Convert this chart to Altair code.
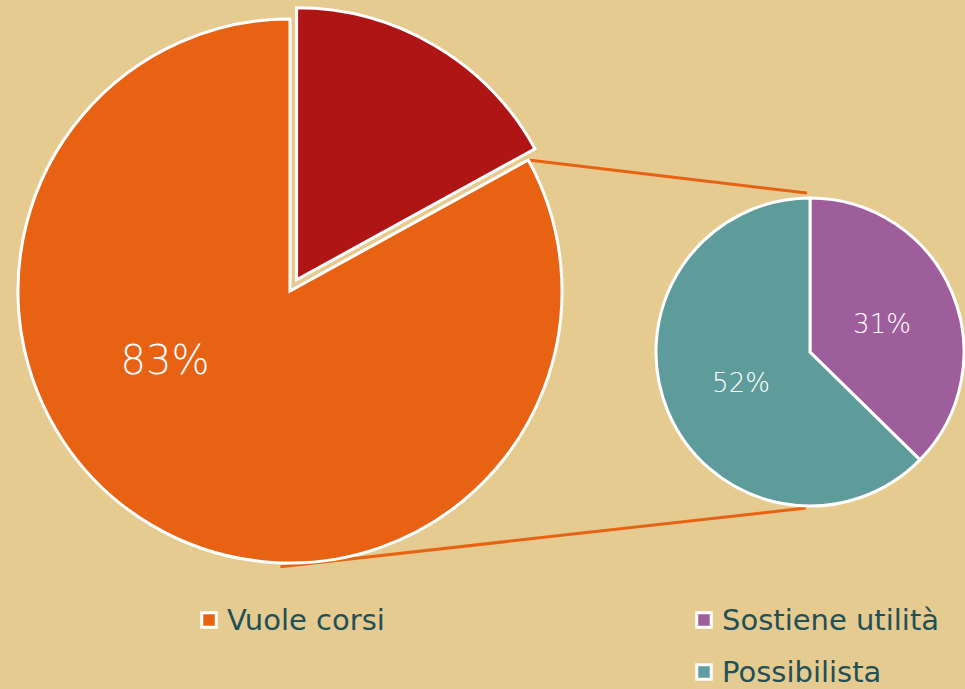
import math
import altair as alt
import pandas as pd

# ---- data ----
main_labels = ["Altro", "Vuole corsi"]
main_values = [17, 83]
sub_labels = ["Sostiene utilità", "Possibilista"]
sub_values = [31, 52]

main_colors = ["#B01516", "#E86214"]
sub_colors = ["#9E5E9B", "#5E9B9B"]

# ---- layout constants ----
W, H = 965, 689
BG = "#E6CB90"
MAIN_C = (290, 291)
MAIN_R = 272
EXPLODE = 13
SUB_C = (810, 352)
SUB_R = 154
FONT = "DejaVu Sans"

def fracs(vals):
    tot = sum(vals)
    out, acc = [], 0.0
    for v in vals:
        out.append((acc / tot, (acc + v) / tot))
        acc += v
    return out

rows = []
for lab, v, col, (a, b) in zip(main_labels, main_values, main_colors, fracs(main_values)):
    cx, cy = MAIN_C
    if lab == "Altro":
        mid = (a + b) * math.pi
        cx += EXPLODE * math.sin(mid)
        cy -= EXPLODE * math.cos(mid)
    rows.append(dict(label=lab, t0=a * 2 * math.pi, t1=b * 2 * math.pi,
                     cx=cx, cy=cy, r=MAIN_R, color=col))
for lab, v, col, (a, b) in zip(sub_labels, sub_values, sub_colors, fracs(sub_values)):
    rows.append(dict(label=lab, t0=a * 2 * math.pi, t1=b * 2 * math.pi,
                     cx=SUB_C[0], cy=SUB_C[1], r=SUB_R, color=col))
arcs_df = pd.DataFrame(rows)

xs = alt.Scale(domain=[0, W], range=[0, W])
ys = alt.Scale(domain=[0, H], range=[0, H])

def X(f):
    return alt.X(f, type="quantitative", scale=xs, axis=None)

def Y(f):
    return alt.Y(f, type="quantitative", scale=ys, axis=None)

arcs = alt.Chart(arcs_df).mark_arc(stroke="white", strokeWidth=3).encode(
    x=X("cx"), y=Y("cy"),
    theta=alt.Theta("t0:Q", scale=None), theta2="t1",
    radius=alt.Radius("r:Q", scale=None),
    color=alt.Color("color:N", scale=None),
)

# connector lines (from the "Altro" slice edges of the main pie to the sub pie)
a_end = fracs(main_values)[0][1] * 2 * math.pi
p1 = (MAIN_C[0] + MAIN_R * math.sin(a_end), MAIN_C[1] - MAIN_R * math.cos(a_end))
a_bot = math.radians(182)
p2 = (MAIN_C[0] + (MAIN_R + 4) * math.sin(a_bot), MAIN_C[1] - (MAIN_R + 4) * math.cos(a_bot))
lines_df = pd.DataFrame([
    dict(x=p1[0], y=p1[1], x2=SUB_C[0] - 3, y2=SUB_C[1] - SUB_R - 5),
    dict(x=p2[0], y=p2[1], x2=SUB_C[0] - 4, y2=SUB_C[1] + SUB_R + 2),
])
lines = alt.Chart(lines_df).mark_rule(color="#E86214", strokeWidth=3).encode(
    x=X("x"), y=Y("y"), x2="x2", y2="y2"
)

# value labels
pct_text = ["83%", "31%", "52%"]
pct_pos = [(165, 362), (882, 325), (741, 384)]
pct_size = [40, 26, 26]
lab_df = pd.DataFrame([dict(t=t, x=p[0], y=p[1], s=s) for t, p, s in zip(pct_text, pct_pos, pct_size)])
labels = alt.Chart(lab_df).mark_text(color="white", font=FONT, fontWeight=200,
                                     baseline="middle", align="center").encode(
    x=X("x"), y=Y("y"), text="t:N", size=alt.Size("s:Q", scale=None)
)

# legend
leg_labels = ["Vuole corsi", "Sostiene utilità", "Possibilista"]
leg_colors = [main_colors[1], sub_colors[0], sub_colors[1]]
leg_pos = [(209, 620), (704, 620), (704, 672)]
leg_df = pd.DataFrame([dict(t=t, c=c, x=p[0], y=p[1]) for t, c, p in zip(leg_labels, leg_colors, leg_pos)])
leg_sq = alt.Chart(leg_df).mark_square(size=210, stroke="white", strokeWidth=3, opacity=1).encode(
    x=X("x"), y=Y("y"), color=alt.Color("c:N", scale=None)
)
leg_tx = alt.Chart(leg_df).mark_text(align="left", baseline="middle", font=FONT, fontSize=29,
                                     fontWeight="normal", color="#1F4F57", dx=18, dy=1).encode(
    x=X("x"), y=Y("y"), text="t:N"
)

chart = alt.layer(lines, arcs, labels, leg_sq, leg_tx).properties(
    width=W, height=H, padding=0, autosize="none", background=BG
).configure_view(stroke=None)

chart.save("out.html", embed_options={"renderer": "svg", "actions": False})
